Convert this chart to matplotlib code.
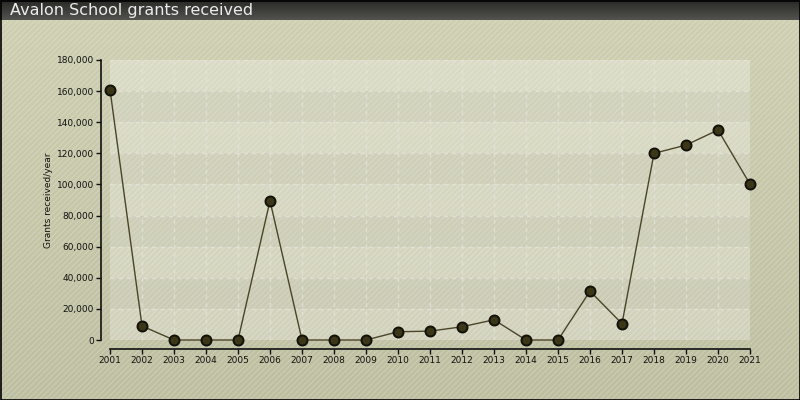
import numpy as np
import matplotlib
matplotlib.use("Agg")
import matplotlib.pyplot as plt
from matplotlib.patches import Rectangle
from matplotlib.ticker import FuncFormatter

years = [2001, 2002, 2003, 2004, 2005, 2006, 2007, 2008, 2009, 2010, 2011,
         2012, 2013, 2014, 2015, 2016, 2017, 2018, 2019, 2020, 2021]
grants = [161000, 9000, 0, 0, 0, 89500, 0, 0, 0, 5300, 5700,
          8500, 13000, 0, 0, 31400, 10500, 120000, 125300, 135000, 100200]
title = "Avalon School grants received"
ylabel = "Grants received/year"
yticks = [0, 20000, 40000, 60000, 80000, 100000, 120000, 140000, 160000, 180000]

plt.rcParams['hatch.linewidth'] = 0.8
W, H = 800, 400
fig = plt.figure(figsize=(8, 4), dpi=100)

# background axes (figure-level decoration)
bg = fig.add_axes([0, 0, 1, 1])
bg.set_xlim(0, W)
bg.set_ylim(H, 0)
bg.axis('off')
grad = np.linspace(0, 1, 100)[:, None]
c_top = np.array([206, 207, 177]) / 255
c_bot = np.array([190, 190, 160]) / 255
img = c_top[None, None, :] * (1 - grad[:, :, None]) + c_bot[None, None, :] * grad[:, :, None]
bg.imshow(img, extent=[0, W, H, 20], aspect='auto', zorder=0)
bg.add_patch(Rectangle((0, 20), W, H - 20, facecolor='none', edgecolor=(1, 1, 1, 0.22),
                       hatch='//////', linewidth=0, zorder=1))
# title bar
tgrad = np.linspace(0, 1, 50)[:, None]
t_top = np.array([40, 40, 38]) / 255
t_bot = np.array([82, 82, 78]) / 255
timg = t_top[None, None, :] * (1 - tgrad[:, :, None]) + t_bot[None, None, :] * tgrad[:, :, None]
bg.imshow(timg, extent=[0, W, 20, 0], aspect='auto', zorder=2)
bg.add_patch(Rectangle((0.5, 0.5), W - 1, H - 1, facecolor='none', edgecolor='black',
                       linewidth=1.2, zorder=5))
bg.text(10, 10.5, title, color='#ececec', fontsize=11.5, va='center', ha='left',
        family='DejaVu Sans', zorder=6)

# main axes
ax = fig.add_axes([110 / W, 60 / H, 640 / W, 280 / H])
ax.set_xlim(years[0], years[-1])
ax.set_ylim(0, 180000)
ax.set_facecolor((1, 1, 1, 0.0))
ax.add_patch(Rectangle((0, 0), 1, 1, transform=ax.transAxes, facecolor=(1, 1, 1, 0.28),
                       edgecolor='none', zorder=0))
for i in range(len(yticks) - 1):
    if i % 2 == 1:
        ax.axhspan(yticks[i], yticks[i + 1], color=(0.45, 0.45, 0.35, 0.07), lw=0, zorder=0.5)
for y in yticks[1:]:
    ax.axhline(y, color=(0.9, 0.9, 0.88, 0.7), lw=1, ls=(0, (3, 3)), zorder=1)
for x in years[1:-1]:
    ax.axvline(x, color=(0.9, 0.9, 0.88, 0.7), lw=1, ls=(0, (3, 3)), zorder=1)

ax.plot(years, grants, color='#4a4528', lw=1, marker='o', ms=7.2, mfc='#3b3618',
        mec='#111108', mew=1.4, zorder=3, clip_on=False)

for s in ['top', 'right']:
    ax.spines[s].set_visible(False)
ax.spines['left'].set_position(('outward', 6.5))
ax.spines['bottom'].set_position(('outward', 6.5))
ax.spines['left'].set_bounds(0, 180000)
ax.spines['bottom'].set_bounds(years[0], years[-1])
for s in ['left', 'bottom']:
    ax.spines[s].set_color('#111111')
    ax.spines[s].set_linewidth(1.2)

ax.set_xticks(years)
ax.set_yticks(yticks)
ax.yaxis.set_major_formatter(FuncFormatter(lambda v, p: f"{int(v):,}"))
ax.tick_params(axis='both', labelsize=6.5, colors='#111111', length=3.5, width=1, pad=1.5)
ax.set_ylabel(ylabel, fontsize=6.5, color='#111111')
ax.yaxis.set_label_coords(-57 / 640, 0.5)

fig.savefig("out.png", dpi=100)
